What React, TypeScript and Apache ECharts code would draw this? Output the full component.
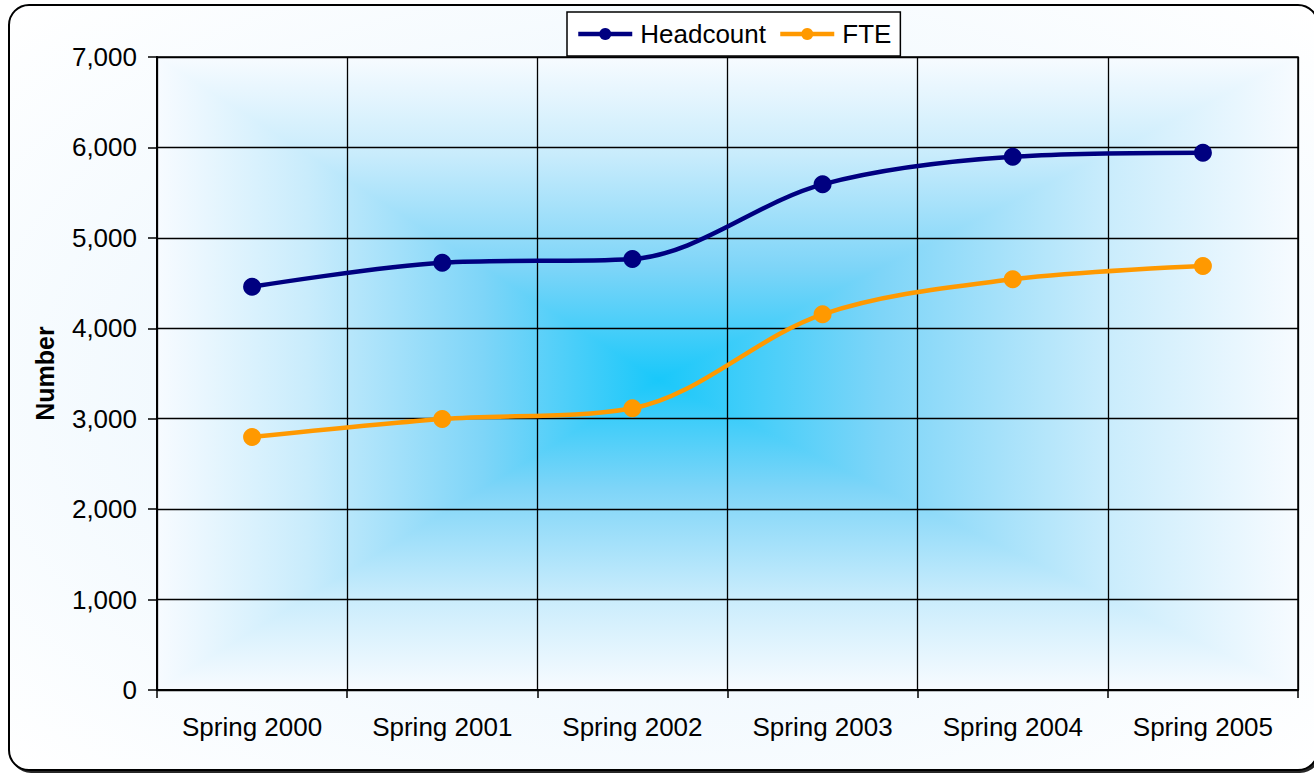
import React, { useEffect, useRef } from 'react';
import * as echarts from 'echarts';

// ---- data ----
const categories = ['Spring 2000', 'Spring 2001', 'Spring 2002', 'Spring 2003', 'Spring 2004', 'Spring 2005'];
const headcount = [4460, 4725, 4766, 5592, 5897, 5942];
const fte = [2798, 2997, 3115, 4155, 4542, 4689];
const seriesNames = ['Headcount', 'FTE'];
const yMin = 0;
const yMax = 7000;
const yStep = 1000;
const yAxisTitle = 'Number';

// ---- layout / style ----
const W = 1314;
const H = 775;
const PLOT = { left: 157, top: 57, right: 1298, bottom: 690 };
const GC = { x: 658, y: 380 };
const FONT = 'Liberation Sans, Arial, sans-serif';
const plotStops = [
  { offset: 0, color: '#19C8FA' },
  { offset: 0.35, color: '#7ED5F8' },
  { offset: 0.7, color: '#C9ECFC' },
  { offset: 1, color: '#F7FBFF' },
];

function lin(x: number, y: number, x2: number, y2: number) {
  return new echarts.graphic.LinearGradient(x, y, x2, y2, plotStops);
}

function tri(points: number[][], g: [number, number, number, number]) {
  return {
    type: 'polygon',
    z: -1,
    silent: true,
    shape: { points },
    style: { fill: lin(...g), stroke: lin(...g), lineWidth: 1.2 },
  };
}

export default function App() {
  const ref = useRef<HTMLDivElement>(null);
  useEffect(() => {
    if (!ref.current) return;
    const chart = echarts.init(ref.current, undefined, { renderer: 'svg' });
    const { left: L, top: T, right: R, bottom: B } = PLOT;
    chart.setOption({
      animation: false,
      textStyle: { fontFamily: FONT, color: '#000' },
      graphic: [
        {
          type: 'rect',
          z: -3,
          shape: { x: 9, y: 5, width: 1309, height: 765, r: 20 },
          style: {
            fill: new echarts.graphic.RadialGradient(0.5, 0.5, 0.7, [
              { offset: 0, color: '#E2F2FD' },
              { offset: 1, color: '#FFFFFF' },
            ]),
            stroke: '#000',
            lineWidth: 2,
            shadowColor: 'rgba(0,0,0,0.85)',
            shadowOffsetX: 2,
            shadowOffsetY: 2,
            shadowBlur: 0,
          },
        },
        tri([[L, T], [R, T], [GC.x, GC.y]], [0, 1, 0, 0]),
        tri([[L, B], [R, B], [GC.x, GC.y]], [0, 0, 0, 1]),
        tri([[L, T], [L, B], [GC.x, GC.y]], [1, 0, 0, 0]),
        tri([[R, T], [R, B], [GC.x, GC.y]], [0, 0, 1, 0]),
      ],
      legend: {
        data: seriesNames,
        left: 567,
        top: 12,
        padding: [9, 9, 9, 9],
        itemGap: 12,
        itemWidth: 54,
        itemHeight: 15,
        borderColor: '#000',
        borderWidth: 1.5,
        backgroundColor: '#FFFFFF',
        lineStyle: { width: 4.5 },
        textStyle: { fontSize: 26, color: '#000', fontFamily: FONT, padding: [0, 0, 0, 3] },
      },
      grid: {
        left: L,
        top: T,
        right: W - R,
        bottom: H - B,
        show: true,
        borderColor: '#000',
        borderWidth: 1.5,
        backgroundColor: 'transparent',
      },
      xAxis: {
        type: 'category',
        data: categories,
        boundaryGap: true,
        axisLine: { lineStyle: { color: '#000', width: 2 } },
        axisTick: { show: true, length: 8, lineStyle: { color: '#000', width: 1.5 } },
        axisLabel: { fontSize: 26, color: '#000', fontFamily: FONT, margin: 24 },
        splitLine: { show: true, lineStyle: { color: '#000', width: 1.3 } },
      },
      yAxis: {
        type: 'value',
        min: yMin,
        max: yMax,
        interval: yStep,
        name: yAxisTitle,
        nameLocation: 'middle',
        nameRotate: 90,
        nameGap: 100,
        nameTextStyle: { fontSize: 25, fontWeight: 'bold', color: '#000', fontFamily: FONT },
        axisLine: { show: true, lineStyle: { color: '#000', width: 2 } },
        axisTick: { show: true, length: 9, lineStyle: { color: '#000', width: 1.5 } },
        axisLabel: {
          fontSize: 26,
          color: '#000',
          fontFamily: FONT,
          margin: 20,
          formatter: (v: number) => v.toLocaleString('en-US'),
        },
        splitLine: { show: true, lineStyle: { color: '#000', width: 1.3 } },
      },
      series: [
        {
          name: seriesNames[0],
          type: 'line',
          data: headcount,
          smooth: 0.33,
          symbol: 'circle',
          symbolSize: 18,
          lineStyle: { color: '#000080', width: 4.5 },
          itemStyle: { color: '#000080' },
        },
        {
          name: seriesNames[1],
          type: 'line',
          data: fte,
          smooth: 0.33,
          symbol: 'circle',
          symbolSize: 18,
          lineStyle: { color: '#FF9900', width: 4.5 },
          itemStyle: { color: '#FF9900' },
        },
      ],
    });
    return () => chart.dispose();
  }, []);
  return (
    <div
      ref={ref}
      style={{ position: 'absolute', left: 0, top: 0, width: W, height: H }}
    />
  );
}
